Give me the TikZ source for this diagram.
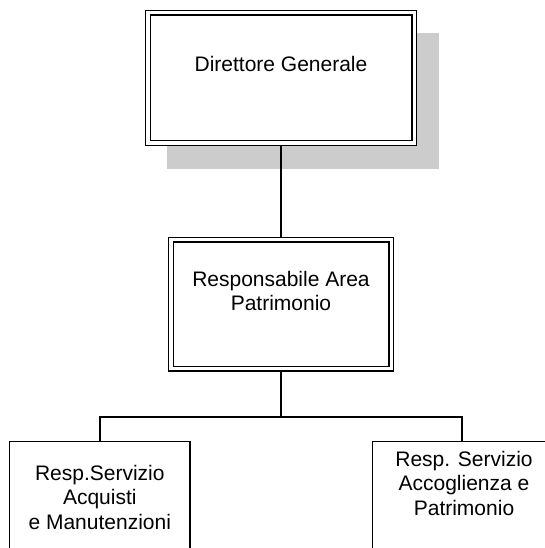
\documentclass[tikz,border=0pt]{standalone}
\usepackage{fontspec}
\setmainfont{Liberation Sans}
\usetikzlibrary{backgrounds}
\begin{document}
\begin{tikzpicture}[x=1pt,y=-1pt,
  every node/.style={inner sep=0pt,outer sep=0pt},
  dblbox/.style={rectangle,draw=black,fill=white,double=white,
                 line width=1.3pt,double distance=3.2pt},
  plainbox/.style={rectangle,draw=black,fill=white,line width=1.3pt},
  lbl/.style={font=\fontsize{21}{24.5}\selectfont,align=center},
  wire/.style={draw=black,line width=1.3pt},
  shade/.style={fill=black!20}]

\useasboundingbox (0,0) rectangle (545,548);
\clip (0,0) rectangle (545,548);

% boxes
\node[dblbox,minimum width=266.2pt,minimum height=130.2pt] (dg) at (281,78) {};
\node[dblbox,minimum width=220.2pt,minimum height=129.2pt] (ra) at (281,304.2) {};
\node[plainbox,minimum width=180.4pt,minimum height=160pt] (lb) at (99.85,521.15) {};
\node[plainbox,minimum width=179.3pt,minimum height=160pt] (rb) at (462,521.35) {};

% labels (base anchor = baseline of the last line)
\node[lbl,anchor=base] (dgt) at (281,71.7) {Direttore Generale};
\node[lbl,anchor=base] (rat) at (281,310.5) {Responsabile Area\\Patrimonio};
\node[lbl,anchor=base] (lbt) at (99.8,529) {Resp.Servizio\\Acquisti\\e Manutenzioni};
\node[lbl,anchor=base] (rbt) at (464,515) {Resp. Servizio\\Accoglienza e\\Patrimonio};

% shadow and connectors behind the boxes
\begin{scope}[on background layer]
  \fill[shade] (166.7,33) rectangle (439,169.3);
  \draw[wire] (dg.south) -- (ra.north);
  \coordinate (bus) at (281,417);
  \draw[wire] (ra.south) -- (bus);
  \draw[wire] (lb.north) |- (bus) -| (rb.north);
\end{scope}
\end{tikzpicture}
\end{document}
